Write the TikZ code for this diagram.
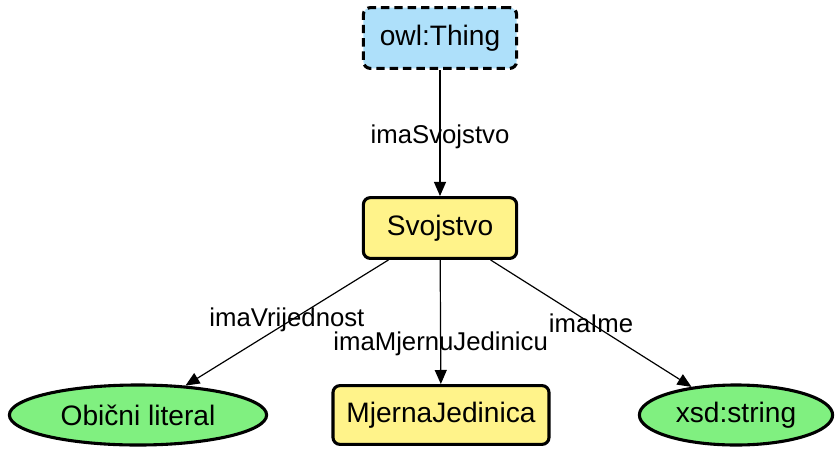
\documentclass[tikz,border=0pt]{standalone}
\usepackage{fontspec}
\setmainfont{Liberation Sans}
\usepackage{tikz}
\usetikzlibrary{positioning,arrows.meta,shapes.geometric}

\definecolor{thingblue}{RGB}{174,224,250}
\definecolor{classyellow}{RGB}{255,243,138}
\definecolor{litgreen}{RGB}{128,240,128}

\begin{document}
\begin{tikzpicture}[x=0.025cm,y=-0.025cm,
    font=\fontsize{20}{22}\selectfont,
    classbox/.style={draw,line width=2.2pt,rounded corners=5pt,fill=classyellow,
      minimum width=3.83cm,minimum height=1.52cm,inner sep=4pt},
    thingbox/.style={classbox,fill=thingblue,dashed,dash pattern=on 6pt off 3.5pt},
    literal/.style={draw,ellipse,line width=2.2pt,fill=litgreen,
      minimum height=1.5cm,inner sep=2pt},
    rel/.style={-{Triangle[length=10pt,width=8.5pt]},line width=0.85pt},
    rellabel/.style={font=\fontsize{18.3}{20}\selectfont,inner sep=0pt}]
  \useasboundingbox (0,0) rectangle (840,448);
  % top class and property node
  \node[thingbox] (thing) at (440,38) {owl:Thing};
  \node[classbox] (svojstvo) at (440,228) {Svojstvo};
  % bottom row
  \node[literal,minimum width=6.43cm] (literal) at (138,415) {Obični literal};
  \node[classbox,minimum width=5.4cm,minimum height=1.47cm] (jedinica) at (441,415) {MjernaJedinica};
  \node[literal,minimum width=4.83cm] (string) at (736,415) {xsd:string};
  % relations
  \draw[rel] (thing) -- node[rellabel,pos=0.53] {imaSvojstvo} (svojstvo);
  \draw[rel] (svojstvo) -- node[rellabel,pos=0.5,yshift=2pt] {imaVrijednost} (literal);
  \draw[rel] (svojstvo) -- node[rellabel,pos=0.68] {imaMjernuJedinicu} (jedinica);
  \draw[rel] (svojstvo) -- node[rellabel,pos=0.5] {imaIme} (string);
\end{tikzpicture}
\end{document}
